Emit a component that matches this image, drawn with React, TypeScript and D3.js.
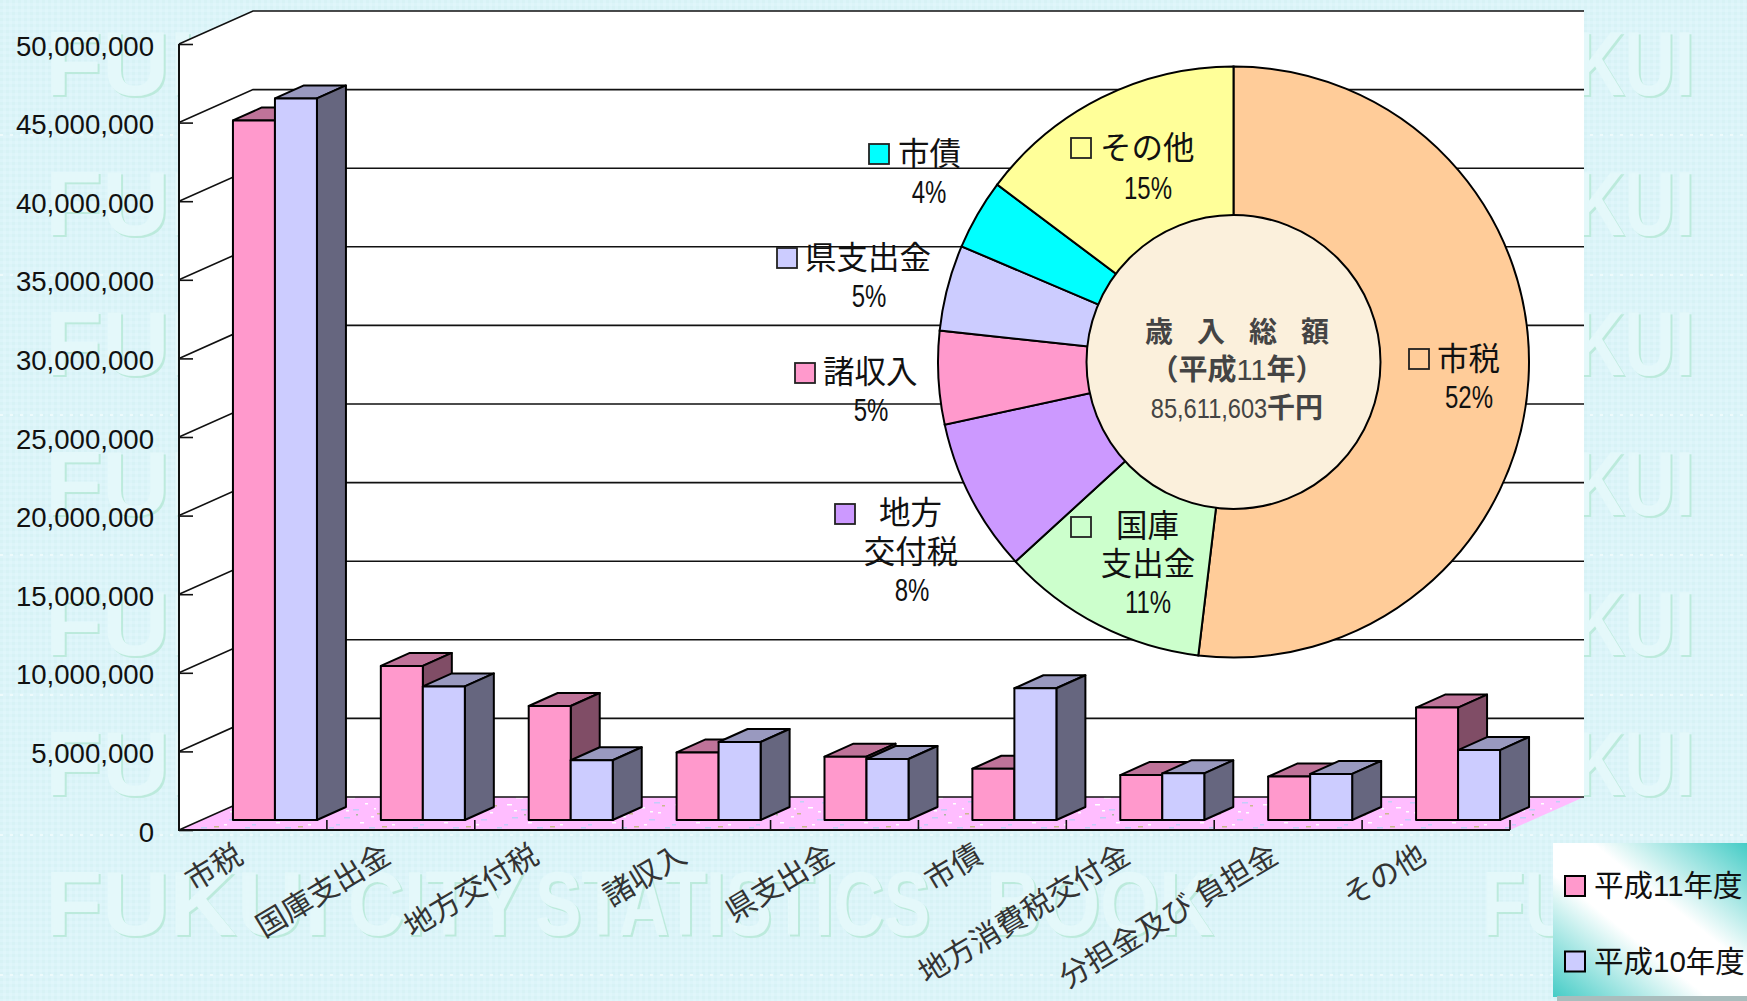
import React, { useEffect, useRef } from "react";
import * as d3 from "d3";

const WIDTH = 1747;
const HEIGHT = 1001;

// bar chart data (thousand yen)
const categories = ["市税", "国庫支出金", "地方交付税", "諸収入", "県支出金", "市債", "地方消費税交付金", "分担金及び 負担金", "その他"];
const h11Values = [44500000, 9800000, 7250000, 4300000, 4030000, 3260000, 2860000, 2760000, 7150000];
const h10Values = [45900000, 8500000, 3800000, 4960000, 3880000, 8380000, 2970000, 2930000, 4450000];
const yTicks = [0, 5000000, 10000000, 15000000, 20000000, 25000000, 30000000, 35000000, 40000000, 45000000, 50000000];

// pie data, clockwise from the top
const pieNames = ["市税", "国庫支出金", "地方交付税", "諸収入", "県支出金", "市債", "その他"];
const pieShares = [51.9, 11.3, 8.4, 5.1, 4.7, 3.85, 14.75];
const pieColors = ["#FFCC99", "#CCFFCC", "#CC99FF", "#FF99CC", "#CCCCFF", "#00FFFF", "#FFFF99"];

const legendNames = ["平成11年度", "平成10年度"];
const watermarkRows = [95, 235, 375, 515, 655, 795];
const watermarkLastRow = 935;
const dottedRows = [135, 275, 415, 555, 695, 835, 975];
const watermarkEnds = [
  { t: "FUKUI", x: 45, w: 285 },
  { t: "FUKUI", x: 1482, w: 212 },
];
const watermarkMiddle = [
  { t: "CITY", x: 348, w: 176 },
  { t: "STATISTICS", x: 535, w: 395 },
  { t: "BOOK", x: 986, w: 228 },
];
const specks = [
  [3, 4, 5, "#FFFFFF"], [17, 9, 6, "#C4CCFA"], [29, 3, 3, "#FFFFFF"], [41, 13, 4, "#C9B98E"], [8, 17, 6, "#BFD0F5"],
  [52, 7, 5, "#FFFFFF"], [61, 19, 6, "#C4CCFA"], [24, 22, 4, "#FFFFFF"], [70, 12, 3, "#FFFFFF"], [46, 26, 5, "#C8B88A"],
  [12, 29, 7, "#FFFFFF"], [77, 27, 5, "#BFD0F5"], [35, 16, 3, "#FFFFFF"], [66, 2, 6, "#C4CCFA"], [0, 24, 4, "#C4CCFA"],
  [20, 14, 2, "#A8B8A0"], [33, 27, 6, "#BFD0F5"], [56, 24, 3, "#FFFFFF"], [74, 5, 3, "#C9B98E"], [10, 10, 3, "#FFFFFF"],
  [44, 1, 4, "#BFD0F5"], [62, 11, 3, "#FFFFFF"], [38, 8, 2, "#FFFFFF"],
];

const FONT = '"Liberation Sans", "Noto Sans CJK JP", sans-serif';

const App = () => {
  const ref = useRef<SVGSVGElement>(null);

  useEffect(() => {
    const svg = d3.select(ref.current);
    svg.selectAll("*").remove();
    svg.attr("font-family", FONT);

    const defs = svg.append("defs");

    // background dither
    const bgPat = defs.append("pattern").attr("id", "bgDots").attr("width", 6).attr("height", 6).attr("patternUnits", "userSpaceOnUse");
    bgPat.append("rect").attr("width", 6).attr("height", 6).attr("fill", "#DCF4F9");
    bgPat.append("rect").attr("x", 0).attr("y", 0).attr("width", 3).attr("height", 3).attr("fill", "#D7F2F5");
    bgPat.append("rect").attr("x", 3).attr("y", 3).attr("width", 3).attr("height", 3).attr("fill", "#E0F6FA");

    const floorPat = defs.append("pattern").attr("id", "floorTex").attr("width", 84).attr("height", 32).attr("patternUnits", "userSpaceOnUse");
    floorPat.append("rect").attr("width", 84).attr("height", 32).attr("fill", "#FFBDFF");
    specks.forEach(([x, y, w, c]) => {
      floorPat.append("rect").attr("x", x).attr("y", y).attr("width", w).attr("height", 1.5).attr("fill", c as string);
    });

    const legendGrad = defs.append("linearGradient").attr("id", "legendGrad").attr("x1", "100%").attr("y1", "0%").attr("x2", "0%").attr("y2", "100%");
    legendGrad.append("stop").attr("offset", "0%").attr("stop-color", "#45CCC6");
    legendGrad.append("stop").attr("offset", "40%").attr("stop-color", "#FFFFFF");
    legendGrad.append("stop").attr("offset", "60%").attr("stop-color", "#FFFFFF");
    legendGrad.append("stop").attr("offset", "100%").attr("stop-color", "#45CCC6");

    const emboss = defs.append("filter").attr("id", "emboss").attr("x", "-5%").attr("y", "-10%").attr("width", "110%").attr("height", "125%");
    emboss.append("feDropShadow").attr("dx", 2).attr("dy", 2).attr("stdDeviation", 0.6).attr("flood-color", "#BCEADC");

    svg.append("rect").attr("width", WIDTH).attr("height", HEIGHT).attr("fill", "url(#bgDots)");

    dottedRows.forEach((yy) => {
      svg.append("line").attr("x1", 0).attr("x2", WIDTH).attr("y1", yy).attr("y2", yy)
        .attr("stroke", "#EEFBFC").attr("stroke-width", 2).attr("stroke-dasharray", "3 7");
    });

    // watermark behind everything
    const wm = svg.append("g").attr("font-size", 90).attr("font-weight", "bold").attr("fill", "#E4F8FA").attr("filter", "url(#emboss)");
    const putWord = (w: { t: string; x: number; w: number }, y: number) => {
      wm.append("text").attr("x", w.x).attr("y", y).attr("textLength", w.w).attr("lengthAdjust", "spacingAndGlyphs").text(w.t);
    };
    watermarkRows.forEach((y) => watermarkEnds.forEach((w) => putWord(w, y)));
    watermarkEnds.forEach((w) => putWord(w, watermarkLastRow));
    watermarkMiddle.forEach((w) => putWord(w, watermarkLastRow));

    // 3D frame
    const x0 = 179;
    const x1 = 1510;
    const depthX = 74;
    const depthY = 33;
    const y = d3.scaleLinear().domain([0, 50000000]).range([830, 44]);
    const x = d3.scaleBand<string>().domain(categories).range([x0, x1]);
    const ax = x0 + depthX;
    const line = d3.line();

    svg.append("path")
      .attr("d", line([[x0, y(50000000)], [ax, y(50000000) - depthY], [x1 + depthX, y(50000000) - depthY], [x1 + depthX, y(0) - depthY], [ax, y(0) - depthY], [x0, y(0)]]) + "Z")
      .attr("fill", "#fff");
    svg.append("path")
      .attr("d", line([[x0, y(0)], [ax, y(0) - depthY], [x1 + depthX, y(0) - depthY], [x1, y(0)]]) + "Z")
      .attr("fill", "url(#floorTex)");

    const frame = svg.append("g").attr("stroke", "#111").attr("stroke-width", 1.6).attr("fill", "none");
    yTicks.forEach((t) => {
      frame.append("path").attr("d", line([[x0, y(t)], [ax, y(t) - depthY], [x1 + depthX, y(t) - depthY]]));
    });
    frame.append("path").attr("d", line([[x0, y(50000000)], [x0, y(0)], [x1, y(0)]])).attr("stroke-width", 2);

    // y axis: ticks point inwards
    const yAxis = svg.append("g").attr("transform", `translate(${x0},0)`)
      .call(d3.axisLeft(y).tickValues(yTicks).tickFormat(d3.format(",")).tickSize(-14).tickPadding(25));
    yAxis.select(".domain").remove();
    yAxis.selectAll("line").attr("stroke", "#111").attr("stroke-width", 1.6);
    yAxis.selectAll("text").attr("font-family", FONT).attr("font-size", 27.6).attr("fill", "#111").attr("dy", "0.4em");

    // category separators on the front edge of the floor
    categories.forEach((c) => {
      const sx = (x(c) as number) + x.bandwidth();
      frame.append("path").attr("d", line([[sx, y(0)], [sx, y(0) - 10]]));
    });

    // bars
    const barW = 42;
    const barDX = 29;
    const barDY = 13;
    const liftX = 22;
    const liftY = 10;
    const drawBar = (g: any, left: number, value: number, front: string, top: string, side: string) => {
      const right = left + barW;
      const by = y(0) - liftY;
      const ty = y(value) - liftY;
      g.append("path").attr("d", line([[left, ty], [left + barDX, ty - barDY], [right + barDX, ty - barDY], [right, ty]]) + "Z").attr("fill", top);
      g.append("path").attr("d", line([[right, ty], [right + barDX, ty - barDY], [right + barDX, by - barDY], [right, by]]) + "Z").attr("fill", side);
      g.append("rect").attr("x", left).attr("y", ty).attr("width", barW).attr("height", by - ty).attr("fill", front);
    };
    const bars = svg.append("g").attr("stroke", "#000").attr("stroke-width", 2).attr("stroke-linejoin", "round");
    categories.forEach((c, i) => {
      const cx = (x(c) as number) + x.bandwidth() / 2 + liftX;
      drawBar(bars, cx - barW, h11Values[i], "#FF99CC", "#BF7399", "#804D66");
      drawBar(bars, cx, h10Values[i], "#CCCCFF", "#9999BF", "#66667F");
    });

    // rotated category labels
    svg.append("g").selectAll("text").data(categories).join("text")
      .attr("transform", (c) => `translate(${(x(c) as number) + x.bandwidth() / 2 - 8},861) rotate(-31)`)
      .attr("text-anchor", "end")
      .attr("font-size", 30)
      .attr("fill", "#333")
      .text((c) => c);

    // doughnut
    const cx = 1233.5;
    const cy = 362;
    const pie = d3.pie<number>().sort(null)(pieShares);
    const arc = d3.arc<d3.PieArcDatum<number>>().innerRadius(0).outerRadius(295.5);
    const pieG = svg.append("g").attr("transform", `translate(${cx},${cy})`);
    pieG.selectAll("path").data(pie).join("path")
      .attr("d", arc as any)
      .attr("fill", (_, i) => pieColors[i])
      .attr("stroke", "#000")
      .attr("stroke-width", 2)
      .attr("data-name", (_, i) => pieNames[i]);
    pieG.append("circle").attr("r", 147).attr("fill", "#FBF0DC").attr("stroke", "#000").attr("stroke-width", 2);

    // centre text
    const centre = svg.append("g").attr("fill", "#444").attr("font-weight", "bold").attr("text-anchor", "middle");
    centre.append("text").attr("x", 1249).attr("y", 342).attr("font-size", 28).attr("letter-spacing", 24).text("歳入総額");
    const t2 = centre.append("text").attr("x", 1237).attr("y", 380).attr("font-size", 29);
    t2.append("tspan").text("（平成");
    t2.append("tspan").attr("font-weight", "normal").text("11");
    t2.append("tspan").text("年）");
    centre.append("text").attr("transform", "translate(1209,418) scale(0.875,1)").attr("font-size", 27).attr("font-weight", "normal").text("85,611,603");
    centre.append("text").attr("x", 1295).attr("y", 418).attr("font-size", 28).text("千円");

    // pie labels: swatch, name lines, condensed percent
    const pieLabels = [
      { color: pieColors[0], sx: 1409, sy: 349, lines: [{ t: "市税", x: 1437, y: 370, a: "start" }], pct: "52%", px: 1469, py: 408 },
      { color: pieColors[1], sx: 1071, sy: 517, lines: [{ t: "国庫", x: 1116, y: 537, a: "start" }, { t: "支出金", x: 1148, y: 575, a: "middle" }], pct: "11%", px: 1148, py: 613 },
      { color: pieColors[2], sx: 835, sy: 504, lines: [{ t: "地方", x: 879, y: 524, a: "start" }, { t: "交付税", x: 911, y: 563, a: "middle" }], pct: "8%", px: 912, py: 601 },
      { color: pieColors[3], sx: 795, sy: 363, lines: [{ t: "諸収入", x: 823, y: 383, a: "start" }], pct: "5%", px: 871, py: 421 },
      { color: pieColors[4], sx: 777, sy: 248, lines: [{ t: "県支出金", x: 805, y: 269, a: "start" }], pct: "5%", px: 869, py: 307 },
      { color: pieColors[5], sx: 869, sy: 144, lines: [{ t: "市債", x: 898, y: 165, a: "start" }], pct: "4%", px: 929, py: 203 },
      { color: pieColors[6], sx: 1071, sy: 138, lines: [{ t: "その他", x: 1100, y: 159, a: "start" }], pct: "15%", px: 1148, py: 199 },
    ];
    const labels = svg.append("g").attr("fill", "#111");
    pieLabels.forEach((l) => {
      labels.append("rect").attr("x", l.sx).attr("y", l.sy).attr("width", 20).attr("height", 20)
        .attr("fill", l.color).attr("stroke", "#222").attr("stroke-width", 1.8);
      l.lines.forEach((n) => {
        labels.append("text").attr("x", n.x).attr("y", n.y).attr("text-anchor", n.a).attr("font-size", 31.5).text(n.t);
      });
      labels.append("text").attr("transform", `translate(${l.px},${l.py}) scale(0.75,1)`)
        .attr("text-anchor", "middle").attr("font-size", 32).text(l.pct);
    });

    // legend box
    const legend = svg.append("g");
    legend.append("rect").attr("x", 1553).attr("y", 843).attr("width", 194).attr("height", 154).attr("fill", "url(#legendGrad)");
    legend.append("rect").attr("x", 1557).attr("y", 996).attr("width", 190).attr("height", 5).attr("fill", "#A9BDBD");
    legendNames.forEach((n, i) => {
      const ly = 876 + i * 75.5;
      legend.append("rect").attr("x", 1565).attr("y", ly).attr("width", 20).attr("height", 20)
        .attr("fill", i === 0 ? "#FF99CC" : "#CCCCFF").attr("stroke", "#000").attr("stroke-width", 2);
      legend.append("text").attr("x", 1594).attr("y", ly + 20).attr("font-size", 29.5).attr("fill", "#111").text(n);
    });
  }, []);

  return <svg ref={ref} width={WIDTH} height={HEIGHT} style={{ position: "absolute", left: 0, top: 0, display: "block" }} />;
};

export default App;
